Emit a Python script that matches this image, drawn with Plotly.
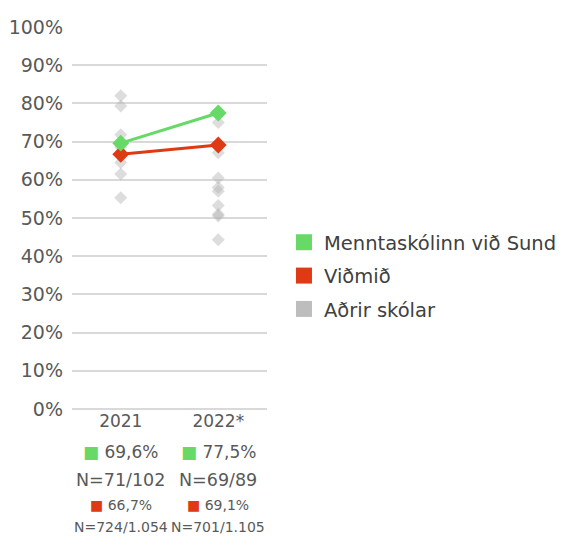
import plotly.graph_objects as go

categories = ["2021", "2022*"]
school_name = "Menntaskólinn við Sund"
ref_name = "Viðmið"
other_name = "Aðrir skólar"

school_values = [0.696, 0.775]
ref_values = [0.667, 0.691]

other_2021 = [0.82, 0.793, 0.718, 0.685, 0.645, 0.615, 0.553]
other_2022 = [0.776, 0.75, 0.671, 0.605, 0.58, 0.57, 0.533, 0.51, 0.505, 0.443]

school_labels = ["69,6%", "77,5%"]
school_n = ["N=71/102", "N=69/89"]
ref_labels = ["66,7%", "69,1%"]
ref_n = ["N=724/1.054", "N=701/1.105"]

GREEN = "#66d966"
RED = "#e03a14"
GRAY = "#bdbdbd"
TXT = "#595959"
FONT = "DejaVu Sans"

fig = go.Figure()

ox = [categories[0]] * len(other_2021) + [categories[1]] * len(other_2022)
oy = other_2021 + other_2022
fig.add_trace(go.Scatter(
    x=ox, y=oy, mode="markers", showlegend=False,
    marker=dict(symbol="diamond", size=10, color="rgba(180,180,180,0.45)"),
))
fig.add_trace(go.Scatter(
    x=categories, y=ref_values, mode="lines+markers", showlegend=False,
    line=dict(color=RED, width=3),
    marker=dict(symbol="diamond", size=13, color=RED),
))
fig.add_trace(go.Scatter(
    x=categories, y=school_values, mode="lines+markers", showlegend=False,
    line=dict(color=GREEN, width=3),
    marker=dict(symbol="diamond", size=13, color=GREEN),
))

for k, (name, col) in enumerate([(school_name, GREEN), (ref_name, RED), (other_name, GRAY)]):
    fig.add_trace(go.Scatter(
        x=[None], y=[None], mode="markers", name=name, legendgroup=f"g{k}",
        marker=dict(symbol="square", size=16, color=col),
    ))

for i, cat in enumerate(categories):
    fig.add_annotation(x=i, xref="x", y=0, yref="paper", yanchor="middle",
                       yshift=-43, showarrow=False,
                       text=f"<span style='color:{GREEN}'>■</span> {school_labels[i]}",
                       font=dict(size=17, color=TXT, family=FONT))
    fig.add_annotation(x=i, xref="x", y=0, yref="paper", yanchor="middle",
                       yshift=-71, showarrow=False, text=school_n[i],
                       font=dict(size=17.5, color=TXT, family=FONT))
    fig.add_annotation(x=i, xref="x", y=0, yref="paper", yanchor="middle",
                       yshift=-96, showarrow=False,
                       text=f"<span style='color:{RED}'>■</span> {ref_labels[i]}",
                       font=dict(size=14, color=TXT, family=FONT))
    fig.add_annotation(x=i, xref="x", y=0, yref="paper", yanchor="middle",
                       yshift=-118, showarrow=False, text=ref_n[i],
                       font=dict(size=14, color=TXT, family=FONT))

fig.update_layout(
    width=561, height=536,
    margin=dict(l=72, r=294, t=27, b=127, autoexpand=False),
    paper_bgcolor="white", plot_bgcolor="white",
    font=dict(family=FONT, color=TXT, size=17),
    legend=dict(x=1.087, y=0.348, xanchor="left", yanchor="middle",
                font=dict(size=19.5, color="#404040", family=FONT),
                itemsizing="trace", tracegroupgap=5, traceorder="grouped",
                bgcolor="rgba(0,0,0,0)"),
    xaxis=dict(type="category", range=[-0.5, 1.5], showgrid=False,
               showline=False, zeroline=False, ticks="",
               tickfont=dict(size=17, color=TXT, family=FONT),
               ticklabelstandoff=0),
    yaxis=dict(range=[0, 1], tickformat=".0%", dtick=0.1,
               showgrid=True, gridcolor="#d9d9d9", gridwidth=2,
               zeroline=True, zerolinecolor="#d9d9d9", zerolinewidth=2,
               showline=False, ticks="", ticklabelstandoff=8,
               tickfont=dict(size=19, color=TXT, family=FONT)),
)

fig.write_html("out.html", config={"displayModeBar": False},
               post_script="document.body.style.margin='0';")
